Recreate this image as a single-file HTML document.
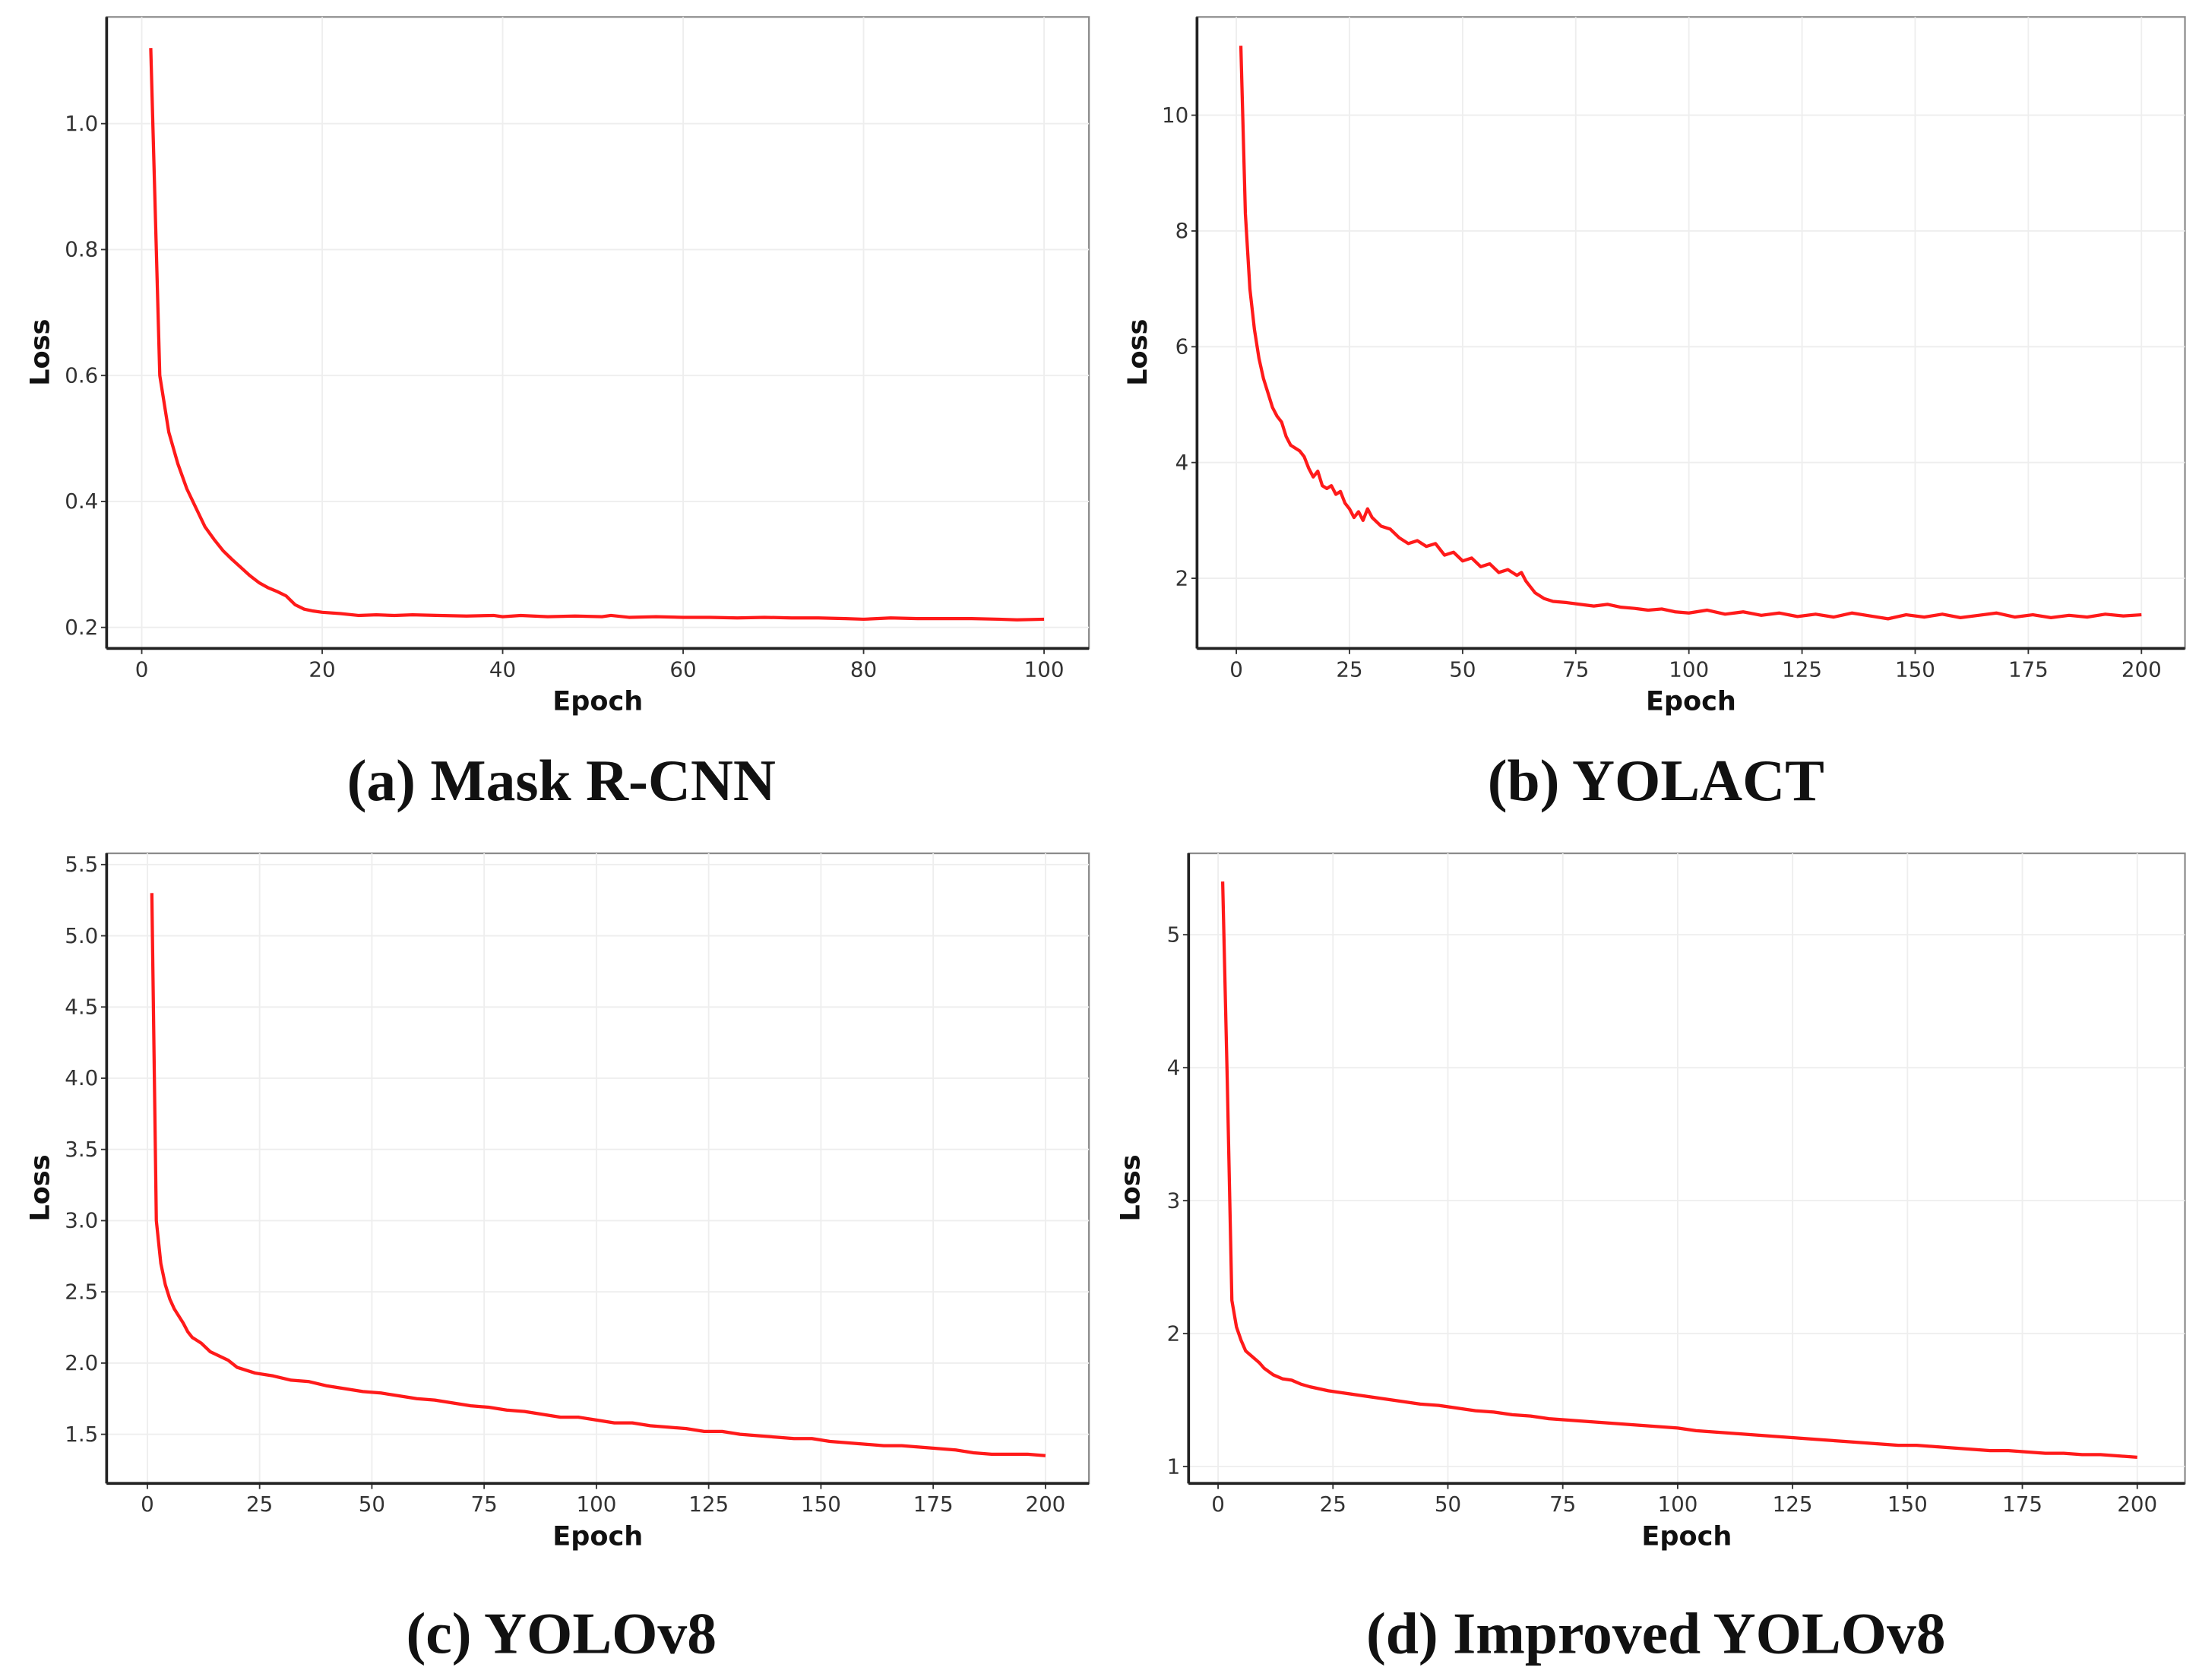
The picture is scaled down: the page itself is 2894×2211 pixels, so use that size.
<!DOCTYPE html>
<html><head><meta charset="utf-8">
<style>
html,body{margin:0;padding:0;background:#fff;}
svg{display:block;}
</style></head>
<body>
<svg id="fig" width="2894" height="2211" viewBox="0 0 1567 1197" xmlns="http://www.w3.org/2000/svg">
<text x="400" y="570" text-anchor="middle" font-family="Liberation Serif, serif" font-weight="bold" font-size="42" fill="#111">(a) Mask R-CNN</text>
<text x="1180" y="570" text-anchor="middle" font-family="Liberation Serif, serif" font-weight="bold" font-size="42" fill="#111">(b) YOLACT</text>
<text x="400" y="1178" text-anchor="middle" font-family="Liberation Serif, serif" font-weight="bold" font-size="42" fill="#111">(c) YOLOv8</text>
<text x="1180" y="1178" text-anchor="middle" font-family="Liberation Serif, serif" font-weight="bold" font-size="42" fill="#111">(d) Improved YOLOv8</text>
</svg>
<script>
const aEpochs=[1,2,3,4,5,6,7,8,9,10,11,12,13,14,15,16,17,18,19,20,22,24,26,28,30,33,36,39,40,42,45,48,51,52,54,57,60,63,66,69,72,75,78,80,83,86,89,92,95,97,100];
const aLoss=[1.12,0.60,0.51,0.46,0.42,0.39,0.36,0.34,0.322,0.308,0.295,0.282,0.271,0.263,0.257,0.250,0.236,0.229,0.226,0.224,0.222,0.219,0.220,0.219,0.220,0.219,0.218,0.219,0.217,0.219,0.217,0.218,0.217,0.219,0.216,0.217,0.216,0.216,0.215,0.216,0.215,0.215,0.214,0.213,0.215,0.214,0.214,0.214,0.213,0.212,0.213];
const aXTicks=[0,20,40,60,80,100];
const aYTicks=[0.2,0.4,0.6,0.8,1.0];

const bEpochs=[1,2,3,4,5,6,7,8,9,10,11,12,13,14,15,16,17,18,19,20,21,22,23,24,25,26,27,28,29,30,32,34,36,38,40,42,44,46,48,50,52,54,56,58,60,62,63,64,65,66,68,70,73,76,79,82,85,88,91,94,97,100,104,108,112,116,120,124,128,132,136,140,144,148,152,156,160,164,168,172,176,180,184,188,192,196,200];
const bLoss=[11.2,8.3,7.0,6.3,5.8,5.45,5.2,4.95,4.8,4.7,4.45,4.3,4.25,4.2,4.1,3.9,3.75,3.85,3.6,3.55,3.6,3.45,3.5,3.3,3.2,3.05,3.15,3.0,3.2,3.05,2.9,2.85,2.7,2.6,2.65,2.55,2.6,2.4,2.45,2.3,2.35,2.2,2.25,2.1,2.15,2.05,2.1,1.95,1.85,1.75,1.65,1.6,1.58,1.55,1.52,1.55,1.5,1.48,1.45,1.47,1.42,1.4,1.45,1.38,1.42,1.36,1.4,1.34,1.38,1.33,1.4,1.35,1.3,1.37,1.33,1.38,1.32,1.36,1.4,1.33,1.37,1.32,1.36,1.33,1.38,1.35,1.37];
const bXTicks=[0,25,50,75,100,125,150,175,200];
const bYTicks=[2,4,6,8,10];

const cEpochs=[1,2,3,4,5,6,7,8,9,10,12,14,16,18,20,24,28,32,36,40,44,48,52,56,60,64,68,72,76,80,84,88,92,96,100,104,108,112,116,120,124,128,132,136,140,144,148,152,156,160,164,168,172,176,180,184,188,192,196,200];
const cLoss=[5.3,3.0,2.7,2.55,2.45,2.38,2.33,2.28,2.22,2.18,2.14,2.08,2.05,2.02,1.97,1.93,1.91,1.88,1.87,1.84,1.82,1.80,1.79,1.77,1.75,1.74,1.72,1.70,1.69,1.67,1.66,1.64,1.62,1.62,1.60,1.58,1.58,1.56,1.55,1.54,1.52,1.52,1.50,1.49,1.48,1.47,1.47,1.45,1.44,1.43,1.42,1.42,1.41,1.40,1.39,1.37,1.36,1.36,1.36,1.35];
const cXTicks=[0,25,50,75,100,125,150,175,200];
const cYTicks=[1.5,2.0,2.5,3.0,3.5,4.0,4.5,5.0,5.5];

const dEpochs=[1,2,3,4,5,6,7,8,9,10,12,14,16,18,20,24,28,32,36,40,44,48,52,56,60,64,68,72,76,80,84,88,92,96,100,104,108,112,116,120,124,128,132,136,140,144,148,152,156,160,164,168,172,176,180,184,188,192,196,200];
const dLoss=[5.4,3.9,2.25,2.05,1.95,1.87,1.84,1.81,1.78,1.74,1.69,1.66,1.65,1.62,1.6,1.57,1.55,1.53,1.51,1.49,1.47,1.46,1.44,1.42,1.41,1.39,1.38,1.36,1.35,1.34,1.33,1.32,1.31,1.30,1.29,1.27,1.26,1.25,1.24,1.23,1.22,1.21,1.20,1.19,1.18,1.17,1.16,1.16,1.15,1.14,1.13,1.12,1.12,1.11,1.10,1.10,1.09,1.09,1.08,1.07];
const dXTicks=[0,25,50,75,100,125,150,175,200];
const dYTicks=[1,2,3,4,5];

const NS='http://www.w3.org/2000/svg';
const svg=document.getElementById('fig');
function mk(tag,attrs,parent){const e=document.createElementNS(NS,tag);for(const k in attrs)e.setAttribute(k,attrs[k]);(parent||svg).appendChild(e);return e;}

function panel(id,frame,xMap,yMap,epochs,loss,xT,yT,fmtY,yLabX){
  const g=mk('g',{});
  
  
  const X=v=>xMap[0]+(v-xMap[1])*(xMap[2]-xMap[0])/(xMap[3]-xMap[1]);
  const Y=v=>yMap[0]+(v-yMap[1])*(yMap[2]-yMap[0])/(yMap[3]-yMap[1]);
  const [L,T,R,B]=frame;
  const bg=mk('rect',{x:L,y:T,width:R-L,height:B-T,fill:'#fff',stroke:'#8a8a8a','stroke-width':1.2},g);
  
  
  xT.forEach(t=>{
    const gl=mk('line',{x1:X(t),x2:X(t),y1:T,y2:B,stroke:'#eeeeee','stroke-width':1},g);
    
    
    mk('line',{x1:X(t),x2:X(t),y1:B,y2:B+4,stroke:'#333','stroke-width':1},g);
    const tx=mk('text',{x:X(t),y:B+20,'text-anchor':'middle','font-family':'DejaVu Sans, sans-serif','font-size':15,fill:'#333'},g);
    tx.textContent=String(t);
    
    
  });
  yT.forEach(t=>{
    const gl=mk('line',{x1:L,x2:R,y1:Y(t),y2:Y(t),stroke:'#eeeeee','stroke-width':1},g);
    
    
    mk('line',{x1:L-4,x2:L,y1:Y(t),y2:Y(t),stroke:'#333','stroke-width':1},g);
    const tx=mk('text',{x:L-6,y:Y(t)+5,'text-anchor':'end','font-family':'DejaVu Sans, sans-serif','font-size':15,fill:'#333'},g);
    tx.textContent=fmtY(t);
    
    
  });
  mk('line',{x1:L,x2:L,y1:T,y2:B,stroke:'#222','stroke-width':2},g);
  mk('line',{x1:L,x2:R,y1:B,y2:B,stroke:'#222','stroke-width':2},g);
  const n=Math.min(epochs.length,loss.length);
  let d='';
  for(let i=0;i<n;i++)d+=(i?'L':'M')+X(epochs[i]).toFixed(2)+','+Y(loss[i]).toFixed(2);
  const p=mk('path',{d:d,fill:'none',stroke:'#ff1a1a','stroke-width':2.3,'stroke-linejoin':'round'},g);
  
  
  const xl=mk('text',{x:(L+R)/2,y:B+44,'text-anchor':'middle','font-family':'DejaVu Sans, sans-serif','font-weight':'bold','font-size':19,fill:'#111'},g);
  xl.textContent='Epoch';
  
  
  const cy=(T+B)/2+14;
  const yl=mk('text',{x:yLabX,y:cy,'text-anchor':'middle','font-family':'DejaVu Sans, sans-serif','font-weight':'bold','font-size':19,fill:'#111',transform:'rotate(-90 '+yLabX+' '+cy+')'},g);
  yl.textContent='Loss';
  
  
}
const f1=v=>v.toFixed(1), f0=v=>String(v);
panel('a',[76,12,776,462],[101,0,744,100],[88,1.0,447,0.2],aEpochs,aLoss,aXTicks,aYTicks,f1,35);
panel('b',[853,12,1557,462],[881,0,1526,200],[82,10,412,2],bEpochs,bLoss,bXTicks,bYTicks,f0,817);
panel('c',[76,608,776,1057],[105,0,745,200],[616,5.5,1022,1.5],cEpochs,cLoss,cXTicks,cYTicks,f1,35);
panel('d',[847,608,1557,1057],[868,0,1523,200],[666,5,1045,1],dEpochs,dLoss,dXTicks,dYTicks,f0,812);
</script>
</body></html>
